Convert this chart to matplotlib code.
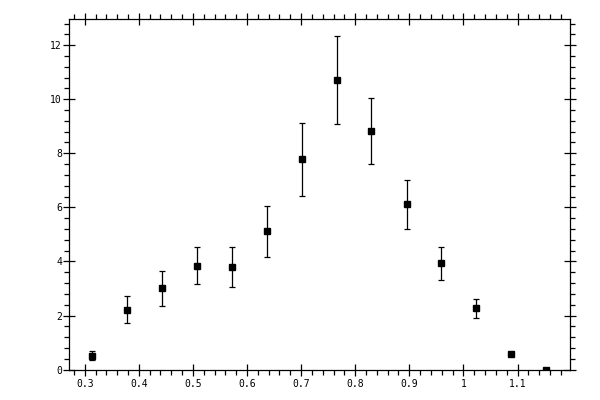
import matplotlib
matplotlib.use("Agg")
import matplotlib.pyplot as plt
from matplotlib.ticker import MultipleLocator

x_vals = [0.314, 0.379, 0.443, 0.508, 0.572, 0.637, 0.701,
          0.766, 0.830, 0.895, 0.959, 1.024, 1.088, 1.153]
y_vals = [0.52, 2.22, 3.00, 3.85, 3.81, 5.11, 7.78,
          10.70, 8.81, 6.11, 3.93, 2.26, 0.59, 0.0]
y_errs = [0.17, 0.50, 0.63, 0.70, 0.74, 0.93, 1.35,
          1.63, 1.22, 0.90, 0.60, 0.35, 0.05, 0.0]

x_ticks = [0.3, 0.4, 0.5, 0.6, 0.7, 0.8, 0.9, 1.0, 1.1]
x_labels = ["0.3", "0.4", "0.5", "0.6", "0.7", "0.8", "0.9", "1", "1.1"]
y_ticks = [0, 2, 4, 6, 8, 10, 12]

fig = plt.figure(figsize=(6, 4), dpi=100)
ax = fig.add_axes([0.115, 0.076, 0.835, 0.876])

ax.errorbar(x_vals, y_vals, yerr=y_errs, fmt="s", color="black",
            markersize=5, elinewidth=0.9, capsize=2.2, capthick=0.9)

ax.set_xlim(0.271, 1.197)
ax.set_ylim(0, 12.96)

ax.set_xticks(x_ticks)
ax.set_xticklabels(x_labels)
ax.set_yticks(y_ticks)
ax.xaxis.set_minor_locator(MultipleLocator(0.02))
ax.yaxis.set_minor_locator(MultipleLocator(0.4))

for s in ax.spines.values():
    s.set_linewidth(0.9)

ax.tick_params(which="major", direction="inout", length=8, width=0.9,
               top=True, right=True, labelsize=7)
ax.tick_params(which="minor", direction="out", length=3.5, width=0.9,
               top=True, right=True)
ax.tick_params(axis="x", which="major", pad=3)
ax.tick_params(axis="y", which="major", pad=1)
for lab in ax.get_xticklabels() + ax.get_yticklabels():
    lab.set_family("DejaVu Sans Mono")

fig.savefig("out.png", dpi=100)
